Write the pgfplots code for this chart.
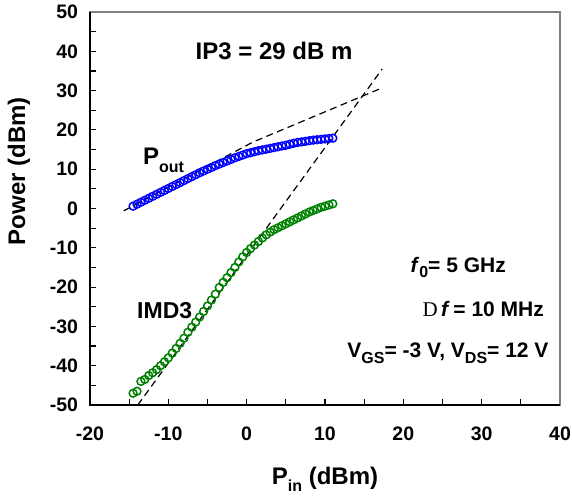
\documentclass[border=0pt]{standalone}
\usepackage{fontspec}
\setmainfont{Liberation Sans}
\newfontfamily\seriffont{Liberation Serif}
\usepackage{pgfplots}
\pgfplotsset{compat=1.18}
\newcommand{\subtxt}[2]{\raisebox{-#2}{\fontsize{16}{16}\selectfont #1}}
\definecolor{dgreen}{RGB}{0,128,0}
\definecolor{fgray}{RGB}{128,128,128}
\pgfplotstableread{
x y
-14.5 0.6
-14.0 1.1
-13.5 1.6
-13.0 2.1
-12.5 2.6
-12.0 3.1
-11.5 3.6
-11.0 4.1
-10.5 4.6
-10.0 5.1
-9.5 5.6
-9.0 6.1
-8.5 6.6
-8.0 7.1
-7.5 7.6
-7.0 8.1
-6.5 8.6
-6.0 9.1
-5.5 9.55
-5.0 10.0
-4.5 10.45
-4.0 10.9
-3.5 11.3
-3.0 11.7
-2.5 12.1
-2.0 12.5
-1.5 12.9
-1.0 13.25
-0.5 13.6
0.0 13.95
0.5 14.2
1.0 14.45
1.5 14.7
2.0 14.9
2.5 15.1
3.0 15.3
3.5 15.5
4.0 15.7
4.5 15.9
5.0 16.1
5.5 16.35
6.0 16.6
6.5 16.8
7.0 16.95
7.5 17.1
8.0 17.25
8.5 17.4
9.0 17.5
9.5 17.6
10.0 17.7
10.5 17.8
11.0 17.9
}\pout
\pgfplotstableread{
x y
-14.5 -47.0
-14.0 -46.5
-13.5 -44.0
-13.0 -43.5
-12.5 -42.5
-12.0 -41.8
-11.5 -41.0
-11.0 -40.0
-10.5 -39.0
-10.0 -38.0
-9.5 -36.8
-9.0 -35.6
-8.5 -34.3
-8.0 -33.0
-7.5 -31.5
-7.0 -30.2
-6.5 -28.9
-6.0 -27.6
-5.5 -26.2
-5.0 -24.8
-4.5 -23.3
-4.0 -21.8
-3.5 -20.1
-3.0 -18.8
-2.5 -17.6
-2.0 -16.3
-1.5 -15.0
-1.0 -13.6
-0.5 -12.3
0.0 -11.2
0.5 -10.2
1.0 -9.3
1.5 -8.4
2.0 -7.5
2.5 -6.7
3.0 -6.0
3.5 -5.4
4.0 -4.9
4.5 -4.4
5.0 -3.9
5.5 -3.4
6.0 -2.9
6.5 -2.4
7.0 -1.9
7.5 -1.4
8.0 -0.9
8.5 -0.5
9.0 -0.1
9.5 0.3
10.0 0.6
10.5 0.9
11.0 1.2
}\imd
\begin{document}
\begin{tikzpicture}
\useasboundingbox (-90pt,-94pt) rectangle (482pt,405pt);
\begin{axis}[
  scale only axis, width=470pt, height=393pt,
  xmin=-20, xmax=40, ymin=-50, ymax=50,
  axis line style={fgray, line width=1.2pt},
  xtick={-20,-10,...,40}, minor xtick={-15,-5,...,35},
  ytick={-50,-40,...,50}, minor ytick={-45,-35,...,45},
  xtick pos=bottom, ytick pos=left,
  tick align=inside, major tick length=6pt, minor tick length=6pt,
  every tick/.style={black, line width=1.2pt},
  every minor tick/.style={black, line width=1.2pt},
  tick label style={font=\fontsize{19.5}{19.5}\selectfont\bfseries},
  /pgf/number format/assume math mode=true,
  xticklabel style={yshift=-18.5pt},
  yticklabel style={xshift=-8.5pt},
  xlabel={P\subtxt{in}{7pt} (dBm)},
  xlabel style={font=\fontsize{24}{24}\selectfont\bfseries, at={(axis description cs:0.5,-0.201)}, anchor=base},
  ylabel={Power (dBm)},
  ylabel style={font=\fontsize{24}{24}\selectfont\bfseries, at={(axis description cs:-0.151,0.595)}, anchor=center},
  clip=false,
]
\addplot[only marks, mark=o, mark size=3.9pt, blue, mark options={line width=1.5pt}] table[x=x,y=y] {\pout};
\addplot[only marks, mark=o, mark size=3.9pt, dgreen, mark options={line width=1.5pt}] table[x=x,y=y] {\imd};
\addplot[black, line width=1.2pt, dash pattern=on 7pt off 4.5pt] coordinates {(-15.7,-0.6) (0.8,16.9) (17.3,30.7)};
\addplot[black, line width=1.2pt, dash pattern=on 7pt off 4.5pt] coordinates {(-13.9,-50) (17.3,35.5)};
\draw[black, line width=1.8pt] (rel axis cs:0,1) -- (rel axis cs:0,0) -- (rel axis cs:1,0);
\node[font=\fontsize{24}{24}\selectfont\bfseries, anchor=base] at (axis cs:3.5,38.0) {IP3 = 29 dB m};
\node[font=\fontsize{24}{24}\selectfont\bfseries, anchor=base west, inner sep=0pt] at (axis cs:-13.25,11.1) {P\subtxt{out}{8pt}};
\node[font=\fontsize{23}{23}\selectfont\bfseries, anchor=base west, inner sep=0pt] at (axis cs:-14.0,-27.9) {IMD3};
\node[font=\fontsize{21}{21}\selectfont\bfseries, anchor=base, inner sep=0pt] at (axis cs:27.0,-16.4) {\textit{f}\subtxt{0}{5pt}= 5 GHz};
\node[font=\fontsize{21}{21}\selectfont\bfseries, anchor=base, inner sep=0pt] at (axis cs:30.2,-27.6) {{\seriffont\mdseries D}\,\textit{f}\,= 10 MHz};
\node[font=\fontsize{21}{21}\selectfont\bfseries, anchor=base, inner sep=0pt] at (axis cs:25.7,-37.8) {V\subtxt{GS}{6pt}= -3 V, V\subtxt{DS}{6pt}= 12 V};
\end{axis}
\end{tikzpicture}
\end{document}
